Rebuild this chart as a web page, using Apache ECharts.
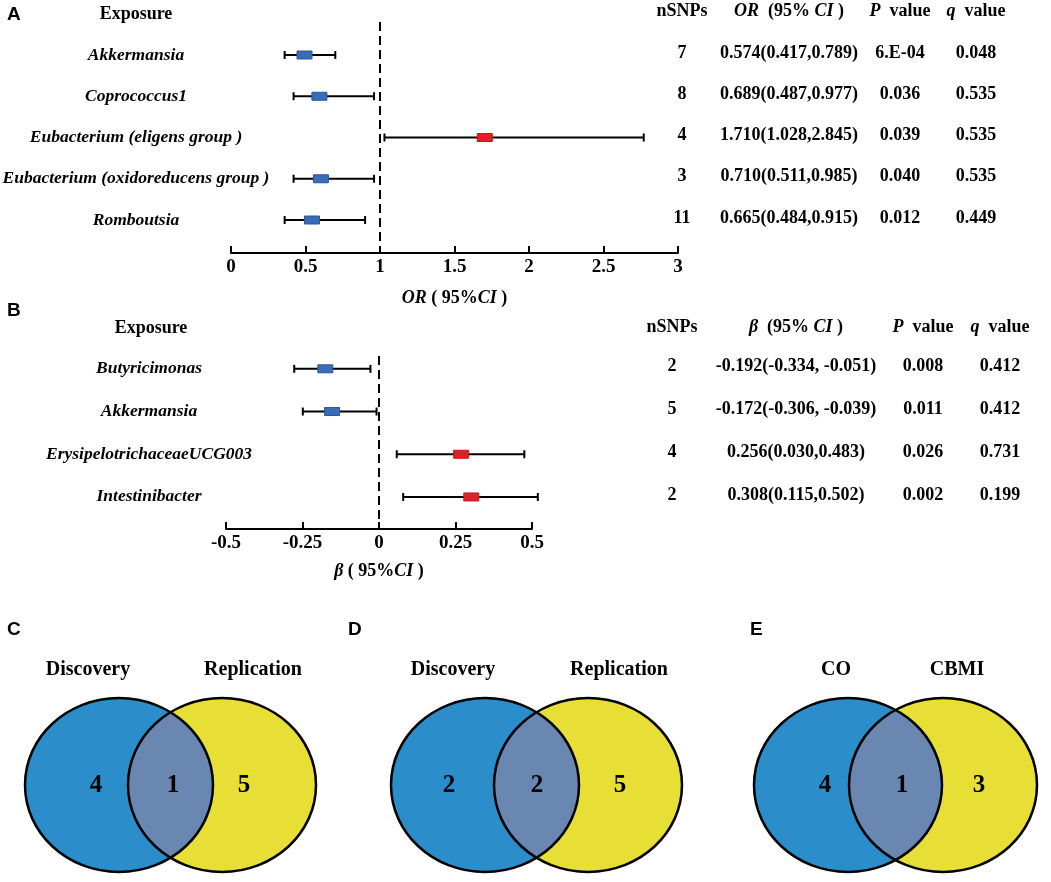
<!DOCTYPE html>
<html>
<head>
<meta charset="utf-8">
<script src="https://cdn.jsdelivr.net/npm/echarts@6/dist/echarts.min.js"></script>
<style>
  html, body { margin: 0; padding: 0; background: #fff; }
  #chart { width: 1051px; height: 882px; }
</style>
</head>
<body>
<div id="chart"></div>
<script>
// ---- panel A: OR forest plot ----
const exposuresA = ['Akkermansia', 'Coprococcus1', 'Eubacterium (eligens group )', 'Eubacterium (oxidoreducens group )', 'Romboutsia'];
const orMid = [0.49, 0.59, 1.70, 0.60, 0.54];
const orLow = [0.36, 0.42, 1.03, 0.42, 0.36];
const orHigh = [0.70, 0.96, 2.77, 0.96, 0.90];
const nSnpsA = ['7', '8', '4', '3', '11'];
const orText = ['0.574(0.417,0.789)', '0.689(0.487,0.977)', '1.710(1.028,2.845)', '0.710(0.511,0.985)', '0.665(0.484,0.915)'];
const pA = ['6.E-04', '0.036', '0.039', '0.040', '0.012'];
const qA = ['0.048', '0.535', '0.535', '0.535', '0.449'];

// ---- panel B: beta forest plot ----
const exposuresB = ['Butyricimonas', 'Akkermansia', 'ErysipelotrichaceaeUCG003', 'Intestinibacter'];
const betaMid = [-0.177, -0.155, 0.267, 0.300];
const betaLow = [-0.277, -0.249, 0.058, 0.079];
const betaHigh = [-0.028, -0.008, 0.475, 0.519];
const nSnpsB = ['2', '5', '4', '2'];
const betaText = ['-0.192(-0.334, -0.051)', '-0.172(-0.306, -0.039)', '0.256(0.030,0.483)', '0.308(0.115,0.502)'];
const pB = ['0.008', '0.011', '0.026', '0.002'];
const qB = ['0.412', '0.412', '0.731', '0.199'];

// ---- panels C, D, E: venn counts ----
const vennNamesC = ['Discovery', 'Replication'];
const vennCountsC = [4, 1, 5];
const vennNamesD = ['Discovery', 'Replication'];
const vennCountsD = [2, 2, 5];
const vennNamesE = ['CO', 'CBMI'];
const vennCountsE = [4, 1, 3];

const SERIF = '"Liberation Serif", "Times New Roman", serif';
const SANS = '"Liberation Sans", Arial, sans-serif';
const BLUE = '#3a6db5', BLUE_EDGE = '#2a559c';
const RED = '#e0202a', RED_EDGE = '#c8141e';

function txt(text, x, y, size, opts) {
  opts = opts || {};
  return {
    type: 'text', silent: true,
    style: {
      text: text, x: x, y: y,
      align: opts.align || 'center', verticalAlign: 'middle',
      fontFamily: opts.family || SERIF, fontSize: size,
      fontWeight: 'bold', fontStyle: opts.italic ? 'italic' : 'normal',
      fill: '#000',
      rich: {
        i: { fontFamily: SERIF, fontSize: size, fontWeight: 'bold', fontStyle: 'italic', fill: '#000' }
      }
    }
  };
}

function forestSeries(idx, exposures, low, mid, high, labelX, cols, nullValue) {
  return {
    type: 'custom',
    xAxisIndex: idx, yAxisIndex: idx,
    silent: true,
    data: mid.map((m, i) => [i, low[i], m, high[i]]),
    renderItem: function (params, api) {
      const i = params.dataIndex;
      const row = api.value(0);
      const a = api.coord([api.value(1), row]);
      const c = api.coord([api.value(2), row]);
      const b = api.coord([api.value(3), row]);
      const neg = api.value(2) < nullValue;
      const line = { stroke: '#000', lineWidth: 2 };
      const children = [
        { type: 'line', shape: { x1: a[0], y1: a[1], x2: b[0], y2: b[1] }, style: line },
        { type: 'line', shape: { x1: a[0], y1: a[1] - 4, x2: a[0], y2: a[1] + 4 }, style: line },
        { type: 'line', shape: { x1: b[0], y1: b[1] - 4, x2: b[0], y2: b[1] + 4 }, style: line },
        { type: 'rect', shape: { x: c[0] - 7, y: c[1] - 4, width: 15, height: 8 },
          style: { fill: neg ? BLUE : RED, stroke: neg ? BLUE_EDGE : RED_EDGE, lineWidth: 1 } },
        txt(exposures[i], labelX, c[1], 17.5, { italic: true })
      ];
      cols.forEach(col => children.push(txt(col.values[i], col.x, c[1] - 2, 18)));
      return { type: 'group', children: children };
    }
  };
}

function nullLine(idx, value) {
  return {
    type: 'line', xAxisIndex: idx, yAxisIndex: idx, data: [], silent: true,
    markLine: {
      symbol: 'none', silent: true, label: { show: false },
      lineStyle: { color: '#000', width: 2, type: [9, 5] },
      data: [{ xAxis: value }]
    }
  };
}

function xAxisCfg(idx, min, max, interval, name, gap) {
  return {
    gridIndex: idx, type: 'value', min: min, max: max, interval: interval,
    name: name, nameLocation: 'middle', nameGap: gap,
    nameTextStyle: {
      fontFamily: SERIF, fontSize: 18, fontWeight: 'bold', color: '#000',
      rich: { i: { fontFamily: SERIF, fontSize: 18, fontWeight: 'bold', fontStyle: 'italic', color: '#000' } }
    },
    axisLine: { show: true, onZero: false, lineStyle: { color: '#000', width: 2 } },
    axisTick: { show: true, inside: true, length: 7, lineStyle: { color: '#000', width: 2 } },
    axisLabel: { fontFamily: SERIF, fontSize: 19, fontWeight: 'bold', color: '#000', margin: 5,
      showMinLabel: true, showMaxLabel: true },
    splitLine: { show: false }
  };
}

function yAxisCfg(idx, min, max) {
  return { gridIndex: idx, type: 'value', inverse: true, min: min, max: max, show: false };
}

// venn drawing
const RX = 94, RY = 87, VCY = 785;
function venn(letterX, names, counts, c1, c2, nameX, countX) {
  const d = c2 - c1;
  const pts = [];
  const t0 = Math.acos(-d / (2 * RX));
  for (let k = 0; k <= 40; k++) {
    const t = t0 + (2 * Math.PI - 2 * t0) * k / 40;
    pts.push([c2 + RX * Math.cos(t), VCY + RY * Math.sin(t)]);
  }
  const p0 = Math.acos(d / (2 * RX));
  for (let k = 0; k <= 40; k++) {
    const p = -p0 + 2 * p0 * k / 40;
    pts.push([c1 + RX * Math.cos(p), VCY + RY * Math.sin(p)]);
  }
  const edge = { fill: 'none', stroke: '#000', lineWidth: 2.5 };
  return [
    { type: 'ellipse', silent: true, shape: { cx: c1, cy: VCY, rx: RX, ry: RY }, style: { fill: '#2b8ecb' } },
    { type: 'ellipse', silent: true, shape: { cx: c2, cy: VCY, rx: RX, ry: RY }, style: { fill: '#e7df36' } },
    { type: 'polygon', silent: true, shape: { points: pts }, style: { fill: '#6987b0' } },
    { type: 'ellipse', silent: true, shape: { cx: c1, cy: VCY, rx: RX, ry: RY }, style: edge },
    { type: 'ellipse', silent: true, shape: { cx: c2, cy: VCY, rx: RX, ry: RY }, style: edge },
    txt(names[0], nameX[0], 670, 20),
    txt(names[1], nameX[1], 670, 20),
    txt(String(counts[0]), countX[0], 786, 25),
    txt(String(counts[1]), countX[1], 786, 25),
    txt(String(counts[2]), countX[2], 786, 25),
    txt(letterX[0], letterX[1], 630, 19, { align: 'left', family: SANS })
  ];
}

const graphics = [].concat(
  [
    txt('A', 7, 15, 19, { align: 'left', family: SANS }),
    txt('Exposure', 136, 14, 18),
    txt('nSNPs', 682, 11, 18),
    txt('{i|OR}  (95% {i|CI} )', 789, 11, 18),
    txt('{i|P}  value', 900, 11, 18),
    txt('{i|q}  value', 976, 11, 18),
    txt('B', 7, 311, 19, { align: 'left', family: SANS }),
    txt('Exposure', 151, 328, 18),
    txt('nSNPs', 672, 327, 18),
    txt('{i|β}  (95% {i|CI} )', 796, 327, 18),
    txt('{i|P}  value', 923, 327, 18),
    txt('{i|q}  value', 1000, 327, 18)
  ],
  venn(['C', 7], vennNamesC, vennCountsC, 119, 222, [88, 253], [96, 173, 244]),
  venn(['D', 348], vennNamesD, vennCountsD, 485, 588, [453, 619], [449, 537, 620]),
  venn(['E', 750], vennNamesE, vennCountsE, 848, 943, [836, 957], [825, 902, 979])
);

const chart = echarts.init(document.getElementById('chart'));
chart.setOption({
  animation: false,
  backgroundColor: '#fff',
  grid: [
    { left: 231, top: 22, width: 447, height: 231 },
    { left: 226, top: 356, width: 306, height: 173 }
  ],
  xAxis: [
    xAxisCfg(0, 0, 3, 0.5, '{i|OR} ( 95%{i|CI} )', 36),
    xAxisCfg(1, -0.5, 0.5, 0.25, '{i|β} ( 95%{i|CI} )', 33)
  ],
  yAxis: [yAxisCfg(0, -0.8, 4.8), yAxisCfg(1, -0.3, 3.75)],
  series: [
    nullLine(0, 1),
    forestSeries(0, exposuresA, orLow, orMid, orHigh, 136,
      [{ x: 682, values: nSnpsA }, { x: 789, values: orText }, { x: 900, values: pA }, { x: 976, values: qA }], 1),
    nullLine(1, 0),
    forestSeries(1, exposuresB, betaLow, betaMid, betaHigh, 149,
      [{ x: 672, values: nSnpsB }, { x: 796, values: betaText }, { x: 923, values: pB }, { x: 1000, values: qB }], 0)
  ],
  graphic: graphics
});
</script>
</body>
</html>
